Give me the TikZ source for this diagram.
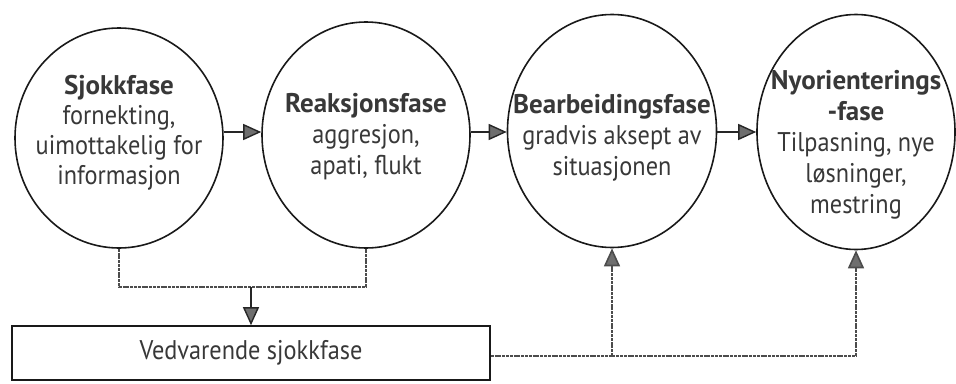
\documentclass[tikz,border=0pt]{standalone}
\usepackage{fontspec}
\setmainfont{PT Sans}[FakeStretch=0.9, BoldFeatures={FakeStretch=1.0}]
\usetikzlibrary{shapes.geometric,arrows.meta}
\definecolor{ink}{HTML}{383838}
\definecolor{headfill}{HTML}{6E6E6E}
\begin{document}
\begin{tikzpicture}[x=1pt,y=-1pt,
  phase/.style={ellipse, draw=black!90, line width=1.6pt, inner sep=0pt},
  txt/.style={align=center, text=ink, font=\fontsize{27}{31}\selectfont},
  tip/.style={-{Triangle[length=18pt,width=16pt,fill=headfill]}},
  flow/.style={draw=black!85, line width=1.4pt, tip},
  feed/.style={draw=black!70, line width=1.6pt, dash pattern=on 3pt off 0.8pt},
  lastbox/.style={draw=black!90, line width=1.6pt, minimum width=478pt, minimum height=54pt,
    text=ink, font=\fontsize{27}{31}\selectfont}
]
\useasboundingbox (0,0) rectangle (956,383);

% the four phases
\node[phase, minimum width=208pt, minimum height=220pt] (shock) at (119,138) {};
\node[phase, minimum width=208pt, minimum height=226pt] (react) at (366,135) {};
\node[phase, minimum width=209pt, minimum height=233pt] (work)  at (612,131) {};
\node[phase, minimum width=198pt, minimum height=235pt] (reori) at (856,132) {};

\node[txt, font=\fontsize{27}{30}\selectfont] (shocktxt) at (119,133)
  {\textbf{Sjokkfase}\\fornekting,\\uimottakelig for\\informasjon};
\node[txt] (reacttxt) at (366,137)
  {\textbf{Reaksjonsfase}\\aggresjon,\\apati, flukt};
\node[txt] (worktxt) at (612,138)
  {\textbf{Bearbeidingsfase}\\gradvis aksept av\\situasjonen};
\node[txt] (reoritxt) at (856,145)
  {\textbf{Nyorienterings}\\\textbf{-fase}\\Tilpasning, nye\\løsninger,\\mestring};

% lasting shock box
\node[lastbox] (lasting) at (251,353) {Vedvarende sjokkfase};

% main sequence
\coordinate (row) at (0,132);
\draw[flow] (shock.east |- row) -- (react.west |- row);
\draw[flow] (react.east |- row) -- (work.west |- row);
\draw[flow] (work.east |- row) -- (reori.west |- row);

% from the first two phases down to the box
\coordinate (bar) at (0,287);
\draw[feed] (shock.south) -- (shock.south |- bar) -- (react.south |- bar) -- (react.south);
\draw[flow] (lasting.north |- bar) -- (lasting.north);

% from the box up to the later phases
\coordinate (lowbar) at (0,356);
\draw[feed] (lasting.east |- lowbar) -- (reori.south |- lowbar);
\draw[feed, tip] (work.south |- lowbar) -- (work.south);
\draw[feed, tip] (reori.south |- lowbar) -- (reori.south);
\end{tikzpicture}
\end{document}
